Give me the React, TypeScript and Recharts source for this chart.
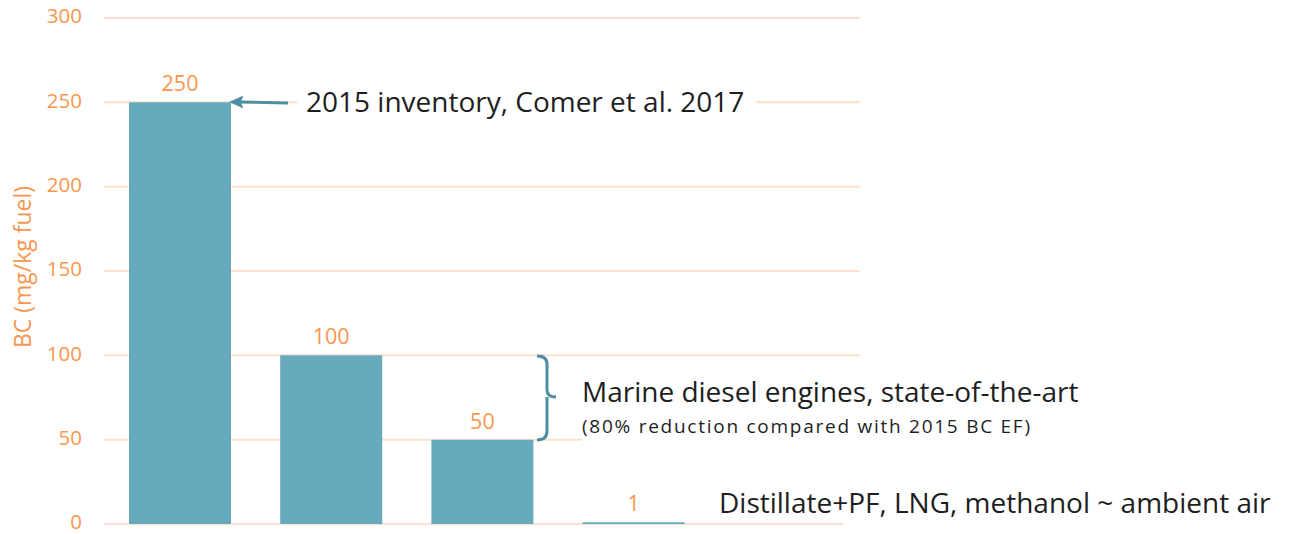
import { Bar, BarChart, CartesianGrid, LabelList, XAxis, YAxis } from "recharts";

const categories = ["2015 inventory", "State-of-the-art (high)", "State-of-the-art (low)", "Distillate+PF / LNG / methanol", ""];
const bcValues = [250, 100, 50, 1, null];
const yTicks = [0, 50, 100, 150, 200, 250, 300];

const ORANGE = "#f9964f";
const TEAL = "#67a9bd";
const DARK_TEAL = "#4f8ea2";
const GRID = "#fde1d0";
const FONT = "'Open Sans', sans-serif";

const data = categories.map((name, i) => ({ name, bc: bcValues[i] }));

export default function App() {
  return (
    <div style={{ position: "absolute", left: 0, top: 0, width: 1290, height: 534, background: "#fff", fontFamily: FONT }}>
      <BarChart width={1290} height={534} data={data} margin={{ top: 18, right: 430, bottom: 10, left: 0 }}>
        <CartesianGrid vertical={false} stroke={GRID} strokeWidth={2} />
        <XAxis dataKey="name" hide />
        <YAxis
          width={104}
          domain={[0, 300]}
          ticks={yTicks}
          interval={0}
          axisLine={false}
          tickLine={false}
          tickSize={0}
          tickMargin={22}
          tick={{ fill: ORANGE, fontSize: 20.5, fontFamily: FONT, dy: -2 }}
          label={{ value: "BC (mg/kg fuel)", angle: -90, position: "insideLeft", dx: 18, dy: -4, fill: ORANGE, fontSize: 23, fontFamily: FONT, style: { textAnchor: "middle" } }}
        />
        <Bar dataKey="bc" fill={TEAL} barSize={102} isAnimationActive={false}>
          <LabelList dataKey="bc" position="top" offset={11} fill={ORANGE} fontSize={21.5} fontFamily={FONT} />
        </Bar>
      </BarChart>
      <svg width={1290} height={534} style={{ position: "absolute", left: 0, top: 0, pointerEvents: "none" }}>
        <rect x={298} y={82} width={458} height={40} fill="#fff" />
        <line x1={288} y1={103} x2={238} y2={102} stroke={DARK_TEAL} strokeWidth={3} />
        <path d="M231,102 L242,97 L240,102 L242,107 Z" fill={DARK_TEAL} stroke={DARK_TEAL} strokeWidth={1.5} />
        <text x={306} y={112} fontSize={28} fill="#1e1e1e" fontFamily={FONT}>2015 inventory, Comer et al. 2017</text>

        <path d="M537,356 Q547,356 547,364 L547,390 Q547,397 556,397 M547,397 Q547,403 547,406 L547,431 Q547,440 537,440" fill="none" stroke={DARK_TEAL} strokeWidth={3} />
        <rect x={582} y={370} width={520} height={76} fill="#fff" />
        <text x={582} y={402} fontSize={28} fill="#1e1e1e" fontFamily={FONT}>Marine diesel engines, state-of-the-art</text>
        <text x={582} y={433} fontSize={19} fill="#1e1e1e" fontFamily={FONT} textLength={448} lengthAdjust="spacing">(80% reduction compared with 2015 BC EF)</text>

        <rect x={843} y={488} width={440} height={40} fill="#fff" />
        <text x={719} y={513} fontSize={28} fill="#1e1e1e" fontFamily={FONT}>Distillate+PF, LNG, methanol ~ ambient air</text>
      </svg>
    </div>
  );
}
